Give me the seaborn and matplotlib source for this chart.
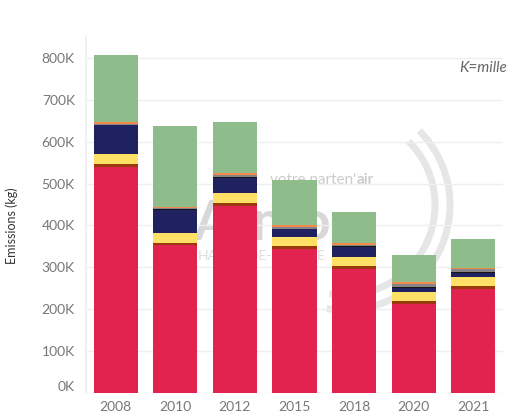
import numpy as np
import pandas as pd
import matplotlib
matplotlib.use("Agg")
import matplotlib.pyplot as plt
import seaborn as sns
from matplotlib.patches import Arc

# values in thousands of kg (bottom -> top)
years = ["2008", "2010", "2012", "2015", "2018", "2020", "2021"]
red = [539, 353, 447, 345, 295, 213, 249]
brown = [7, 5, 6, 5.5, 8, 6, 6]
yellow = [25, 24, 25, 22, 22, 21, 21]
navy = [68, 55, 36, 18, 23, 10, 11]
black = [2, 3, 2, 2, 2, 4, 2]
grey = [1, 1, 5, 5, 3, 6, 7]
orange = [4, 4, 4, 4, 5, 4, 3]
green = [162, 193, 122, 108, 74, 66, 68]

layers = [red, brown, yellow, navy, black, grey, orange, green]
colors = ["#e2234f", "#9a3a0c", "#ffe066", "#1f2160", "#151515",
          "#858585", "#f2884b", "#8fbc8b"]

sns.set_theme(style="white")
plt.rcParams["font.family"] = ["Lato", "DejaVu Sans"]

fig = plt.figure(figsize=(5.13, 4.2), dpi=100)

# watermark layer, pixel coordinates (y down)
bg = fig.add_axes([0, 0, 1, 1], zorder=0)
bg.set_xlim(0, 513)
bg.set_ylim(420, 0)
bg.axis("off")
for r in (210, 180):
    bg.add_patch(Arc((345, 205), r, r, theta1=-45, theta2=100, lw=5, color="#e6e6e6"))
bg.text(262, 224, "Atmo", fontsize=40, fontweight="bold", color="#d8d8d8", ha="center", va="center")
bg.text(356, 180, "votre parten'", fontsize=11, color="#cccccc", ha="right", va="center")
bg.text(357, 180, "air", fontsize=11, fontweight="bold", color="#cccccc", ha="left", va="center")
bg.text(262, 256, "HAUTS-DE-FRANCE", fontsize=10, color="#dddddd", ha="center", va="center")

ax = fig.add_axes([86 / 513, 27 / 420, 417 / 513, 356 / 420], zorder=1)
ax.patch.set_alpha(0)

cum = np.cumsum(np.array(layers, dtype=float), axis=0)
for i in reversed(range(len(layers))):
    df = pd.DataFrame({"year": years, "value": cum[i] * 1000})
    sns.barplot(data=df, x="year", y="value", color=colors[i], saturation=1,
                width=0.74, errorbar=None, linewidth=0, ax=ax, zorder=2)

ax.set_xlim(-0.5, 6.5)
ax.set_ylim(0, 850000)
yt = np.arange(0, 900000, 100000)
ax.set_yticks(yt)
ax.set_yticklabels([f"{v // 1000}K" for v in yt])
ax.get_yticklabels()[0].set_va("bottom")
ax.set_xticks(np.arange(-0.5, 7, 1), minor=True)

ax.grid(axis="y", color="#efefef", lw=1)
ax.set_axisbelow(True)
for s in ["top", "right", "bottom"]:
    ax.spines[s].set_visible(False)
ax.spines["left"].set_color("#f0f0f0")

ax.tick_params(axis="both", which="major", length=0, labelsize=10, labelcolor="#777777")
ax.tick_params(axis="y", pad=8)
ax.tick_params(axis="x", pad=6)
ax.tick_params(axis="x", which="minor", length=6, width=1, color="#e0e0e0")

ax.set_xlabel("")
ax.set_ylabel("Emissions (kg)", fontsize=9, color="#333333")
ax.yaxis.set_label_coords(-0.163, 0.47)

fig.text(507 / 513, 1 - 68 / 420, "K=mille", ha="right", va="center",
         style="italic", color="#666666", fontsize=11)

fig.savefig("out.png", dpi=100, facecolor="white")
